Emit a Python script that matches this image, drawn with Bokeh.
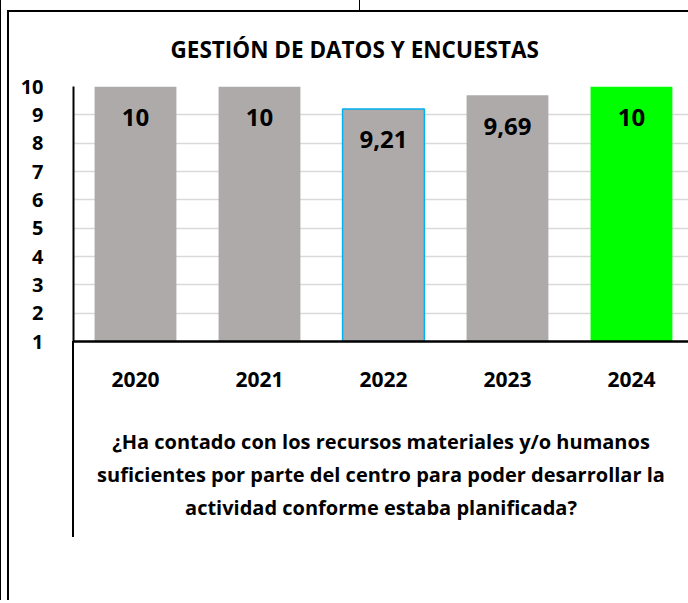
from bokeh.plotting import figure
from bokeh.models import Range1d, FixedTicker, ColumnDataSource
from bokeh.core.properties import value
from bokeh.embed import file_html
from bokeh.resources import INLINE

# ---- data ----
years = ["2020", "2021", "2022", "2023", "2024"]
scores = [10, 10, 9.21, 9.69, 10]
score_labels = ["10", "10", "9,21", "9,69", "10"]
bar_colors = ["#AEAAAA", "#AEAAAA", "#AEAAAA", "#AEAAAA", "#00FF00"]
bar_line_colors = ["rgba(0,0,0,0)", "rgba(0,0,0,0)", "#00B0F0", "rgba(0,0,0,0)", "rgba(0,0,0,0)"]
y_ticks = [1, 2, 3, 4, 5, 6, 7, 8, 9, 10]
title_text = "GESTIÓN DE DATOS Y ENCUESTAS"
question_lines = [
    "¿Ha contado con los recursos materiales y/o humanos",
    "suficientes por parte del centro para poder desarrollar la",
    "actividad conforme estaba planificada?",
]

FONT = "Open Sans"
positions = list(range(len(years)))

src = ColumnDataSource(dict(x=positions, top=scores, label=score_labels,
                            color=bar_colors, line=bar_line_colors))

p = figure(width=688, height=600,
           x_range=Range1d(-0.5, 4.46), y_range=Range1d(1, 10),
           output_backend="svg", toolbar_location=None,
           min_border_left=73, min_border_right=0,
           min_border_top=86, min_border_bottom=259)

p.vbar(x="x", top="top", bottom=1, width=0.66, source=src,
       fill_color="color", line_color="line", line_width=1.5)

p.text(x="x", y="top", text="label", source=src,
       text_font=value(FONT), text_font_style="bold", text_font_size="24px",
       text_align="center", text_baseline="middle", y_offset=31, text_color="black")

# title
p.title.text = title_text
p.title.text_font = FONT
p.title.text_font_style = "bold"
p.title.text_font_size = "22.5px"
p.title.text_color = "black"
p.title.align = "left"
p.title.offset = 97
p.title.standoff = 43

# axes
p.yaxis.ticker = FixedTicker(ticks=y_ticks)
p.yaxis.major_tick_line_color = None
p.yaxis.minor_tick_line_color = None
p.yaxis.major_label_standoff = 24
p.yaxis.axis_line_width = 2
p.yaxis.axis_line_color = "black"
p.yaxis.major_label_text_font = FONT
p.yaxis.major_label_text_font_style = "bold"
p.yaxis.major_label_text_font_size = "20px"
p.yaxis.major_label_text_color = "black"

p.xaxis.ticker = FixedTicker(ticks=positions)
p.xaxis.major_label_overrides = {i: y for i, y in zip(positions, years)}
p.xaxis.major_tick_line_color = None
p.xaxis.minor_tick_line_color = None
p.xaxis.major_label_standoff = 24
p.xaxis.axis_line_width = 2.5
p.xaxis.axis_line_color = "black"
p.xaxis.major_label_text_font = FONT
p.xaxis.major_label_text_font_style = "bold"
p.xaxis.major_label_text_font_size = "21px"
p.xaxis.major_label_text_color = "black"
p.xaxis.axis_label = "\n".join(question_lines)
p.xaxis.axis_label_standoff = 38
p.xaxis.axis_label_text_font = FONT
p.xaxis.axis_label_text_font_style = "bold"
p.xaxis.axis_label_text_font_size = "20px"
p.xaxis.axis_label_text_color = "black"
p.xaxis.axis_label_text_line_height = 1.24

p.xgrid.grid_line_color = None
p.ygrid.grid_line_color = "#D9D9D9"
p.ygrid.grid_line_width = 1.5
p.outline_line_color = None

# chart frame lines (outer borders and category divider) drawn as host background
p.border_fill_color = None
p.background_fill_color = None
p.styles = {
    "background-color": "white",
    "background-image": ", ".join(["linear-gradient(#000,#000)"] * 5),
    "background-position": "0px 0px, 7px 10px, 7px 10px, 72px 341px, 359px 0px",
    "background-size": "1px 100%, 2px 100%, 100% 2px, 2px 196px, 1px 11px",
    "background-repeat": "no-repeat",
}

open("out.html", "w").write(file_html(p, INLINE))
